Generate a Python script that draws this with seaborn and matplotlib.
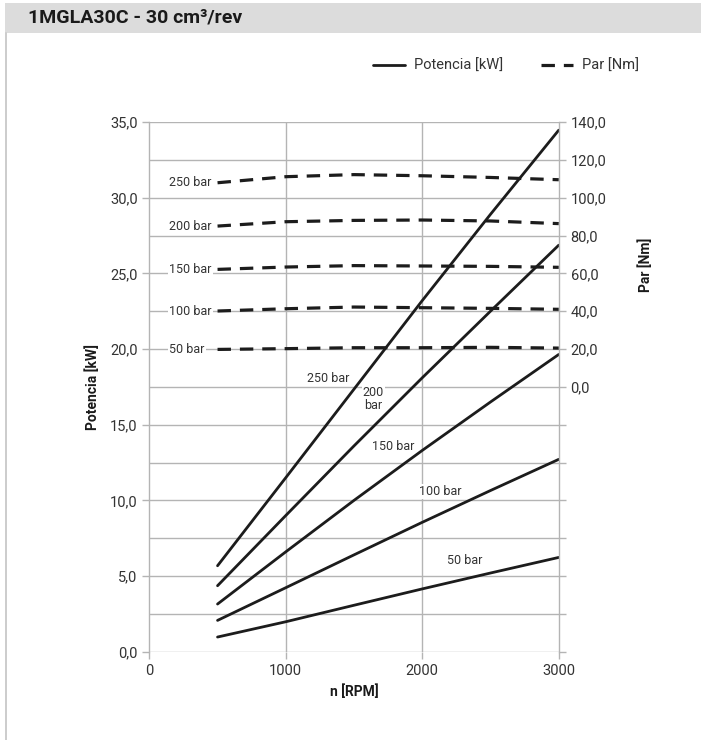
import pandas as pd
import matplotlib
matplotlib.use("Agg")
import matplotlib.pyplot as plt
from matplotlib.lines import Line2D
from matplotlib.patches import Rectangle
import seaborn as sns

# values
rpm = [500, 1000, 1500, 2000, 2500, 3000]
pressures = ["250 bar", "200 bar", "150 bar", "100 bar", "50 bar"]

# Potencia [kW] (solid lines)
power_250 = [5.68, 11.5, 17.35, 23.2, 28.9, 34.46]
power_200 = [4.36, 9.0, 13.6, 18.1, 22.5, 26.86]
power_150 = [3.15, 6.6, 10.0, 13.3, 16.5, 19.64]
power_100 = [2.07, 4.23, 6.4, 8.55, 10.65, 12.71]
power_50 = [0.97, 1.98, 3.07, 4.15, 5.2, 6.23]

# Par [Nm] (dashed lines)
torque_250 = [107.9, 111.1, 112.2, 111.6, 110.7, 109.5]
torque_200 = [85.0, 87.3, 88.0, 88.2, 87.7, 86.3]
torque_150 = [62.1, 63.35, 64.1, 63.9, 63.7, 63.2]
torque_100 = [40.1, 41.3, 42.2, 41.85, 41.5, 41.0]
torque_50 = [19.8, 20.2, 20.7, 20.7, 20.9, 20.5]

power_series = [power_250, power_200, power_150, power_100, power_50]
torque_series = [torque_250, torque_200, torque_150, torque_100, torque_50]

# where the pressure labels sit on the power curves (rpm, kW)
power_label_x = [1309, 1640, 1786, 2130, 2313]
power_label_y = [18.08, 16.69, 13.54, 10.57, 6.01]
power_label_txt = ["250 bar", "200\nbar", "150 bar", "100 bar", "50 bar"]

kw_ticks = [0, 5, 10, 15, 20, 25, 30, 35]
kw_ticklabels = ["0,0", "5,0", "10,0", "15,0", "20,0", "25,0", "30,0", "35,0"]
nm_ticks = [0, 20, 40, 60, 80, 100, 120, 140]
nm_ticklabels = ["0,0", "20,0", "40,0", "60,0", "80,0", "100,0", "120,0", "140,0"]
rpm_ticks = [0, 1000, 2000, 3000]

power_df = pd.concat(
    [pd.DataFrame({"rpm": rpm, "kW": v, "bar": p}) for p, v in zip(pressures, power_series)]
)
torque_df = pd.concat(
    [pd.DataFrame({"rpm": rpm, "Nm": v, "bar": p}) for p, v in zip(pressures, torque_series)]
)

sns.set_style("white")
plt.rcParams["font.family"] = ["Roboto", "DejaVu Sans"]

line_col = "#1c1c1c"
grid_col = "#b4b4b4"
text_col = "#333333"

fig = plt.figure(figsize=(7.01, 7.4), dpi=100)
ax = fig.add_axes([0.213, 0.1193, 0.584, 0.7158])

# header band and left frame line
fig.patches.append(Rectangle((5 / 701, 1 - 33 / 740), 1, 30 / 740, transform=fig.transFigure,
                             facecolor="#dcdcdc", edgecolor="none", zorder=0))
fig.add_artist(Line2D([5.5 / 701, 5.5 / 701], [0, 1 - 33 / 740], transform=fig.transFigure,
                      color="#c4c4c4", lw=1.2))
fig.text(28 / 701, 1 - 18 / 740, "1MGLA30C - 30 cm³/rev", fontsize=14, fontweight="bold",
         color="#1a1a1a", va="center", ha="left")

# grid
for k in range(15):
    ax.axhline(k * 2.5, color=grid_col, lw=1.0, zorder=1)
for x in [1000, 2000]:
    ax.axvline(x, color=grid_col, lw=1.0, zorder=1)

for p in pressures:
    sns.lineplot(data=power_df[power_df["bar"] == p], x="rpm", y="kW", ax=ax,
                 color=line_col, lw=2.0, legend=False, zorder=3)

for tx, ty, t in zip(power_label_x, power_label_y, power_label_txt):
    ax.text(tx, ty, t, fontsize=9, color=text_col, ha="center", va="center",
            linespacing=0.95, zorder=4,
            bbox=dict(facecolor="white", edgecolor="none", pad=0.6))

ax.set_xlim(0, 3000)
ax.set_ylim(0, 35)
ax.set_xticks(rpm_ticks)
ax.set_yticks(kw_ticks)
ax.set_yticklabels(kw_ticklabels)
ax.tick_params(axis="both", colors=grid_col, labelcolor=text_col, labelsize=10.5,
               length=5, width=1.0, direction="out", left=True, bottom=True)
ax.set_xlabel("n [RPM]", fontsize=10, fontweight="bold", color="#1a1a1a", labelpad=5)
ax.set_ylabel("Potencia [kW]", fontsize=10, fontweight="bold", color="#1a1a1a")
ax.yaxis.set_label_coords(-0.12, 0.5)
for s in ["top", "bottom"]:
    ax.spines[s].set_visible(False)
ax.spines["left"].set_color(grid_col)
ax.spines["left"].set_linewidth(1.0)
ax.spines["right"].set_visible(False)

# torque on the right axis
ax2 = ax.twinx()
for p in pressures:
    sns.lineplot(data=torque_df[torque_df["bar"] == p], x="rpm", y="Nm", ax=ax2,
                 color=line_col, lw=2.3, legend=False, zorder=3)
for l in ax2.get_lines():
    l.set_dashes((4.2, 2.8))
for p, v in zip(pressures, torque_series):
    ax2.text(145, v[0], p, fontsize=9, color=text_col, ha="left", va="center", zorder=4,
             bbox=dict(facecolor="white", edgecolor="none", pad=0.8))

ax2.set_ylim(-140, 140)
ax2.set_yticks(list(range(-140, 141, 20)))
ax2.set_yticklabels([""] * 7 + nm_ticklabels)
ax2.tick_params(axis="y", colors=grid_col, labelcolor=text_col, labelsize=10.5,
                length=5, width=1.0, direction="out", right=True)
ax2.set_ylabel("Par [Nm]", fontsize=10, fontweight="bold", color="#1a1a1a")
ax2.yaxis.set_label_coords(1.194, 0.73)
for s in ["top", "bottom", "left"]:
    ax2.spines[s].set_visible(False)
ax2.spines["right"].set_color(grid_col)
ax2.spines["right"].set_linewidth(1.0)
ax2.set_xlim(0, 3000)

handles = [Line2D([], [], color=line_col, lw=2.0),
           Line2D([], [], color=line_col, lw=2.3, dashes=(4.2, 2.8))]
fig.legend(handles, ["Potencia [kW]", "Par [Nm]"], loc="center right",
           bbox_to_anchor=(0.93, 1 - 66 / 740), ncol=2, frameon=False, fontsize=10.5,
           handlelength=2.2, columnspacing=2.6, handletextpad=0.6, labelcolor=text_col)

fig.savefig("out.png", dpi=100, facecolor="white")
